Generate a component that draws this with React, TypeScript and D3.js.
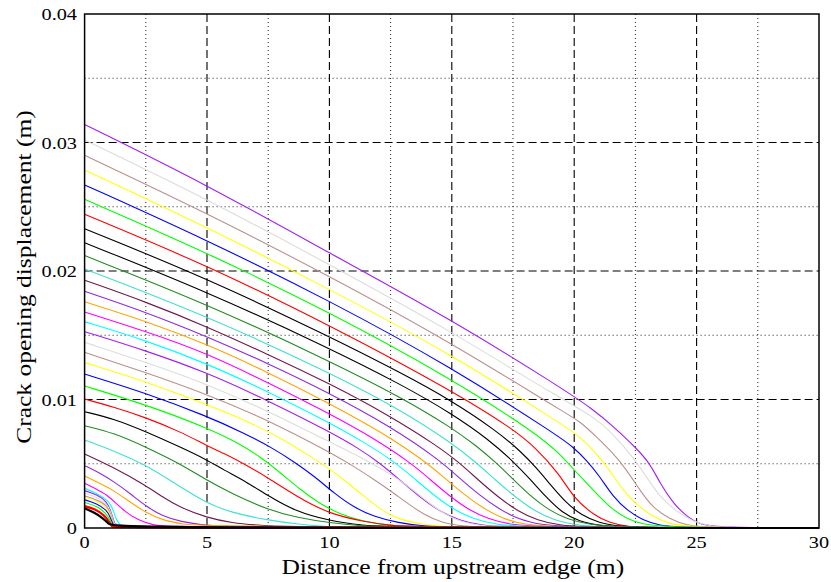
import React from "react";
import * as d3 from "d3";

const W = 831;
const H = 582;
const left = 84.6;
const right = 819;
const top = 14;
const bottom = 528;

const xMajor = [5, 10, 15, 20, 25];
const xMinor = [2.5, 7.5, 12.5, 17.5, 22.5, 27.5];
const yMajor = [0.01, 0.02, 0.03];
const yMinor = [0.005, 0.015, 0.025, 0.035];
const xTickLabels = ["0", "5", "10", "15", "20", "25", "30"];
const xTickValues = [0, 5, 10, 15, 20, 25, 30];
const yTickLabels = ["0", "0.01", "0.02", "0.03", "0.04"];
const yTickValues = [0, 0.01, 0.02, 0.03, 0.04];

// one colour per profile, from the shortest crack to the longest
const profileColors = [
  "#000000", "#ff0000", "#00ff00", "#0000ff", "#ffff00", "#bc8f8f", "#dcdcdc", "#a020f0",
  "#00ffff", "#ff00ff", "#ffa500", "#8a2be2", "#701a4c", "#40e0d0", "#228b22", "#000000",
  "#ff0000", "#00ff00", "#0000ff", "#ffff00", "#bc8f8f", "#dcdcdc", "#a020f0", "#00ffff",
  "#ff00ff", "#ffa500", "#8a2be2", "#701a4c", "#40e0d0", "#228b22", "#000000", "#000000",
  "#ff0000", "#00ff00", "#0000ff", "#ffff00", "#bc8f8f", "#dcdcdc", "#a020f0",
];

// crack opening profiles [distance (m), opening (m)]
const profiles: [number, number][][] = [
  [[0, 0.00153], [0.4, 0.0012], [0.76, 0.00075], [1.0, 0.0003], [1.15, 0], [30, 0]],
  [[0, 0.0017], [0.4, 0.0015], [0.8, 0.001], [1.0, 0.0005], [1.12, 0.0001], [1.2, 0], [30, 0]],
  [[0, 0.002], [0.5, 0.0017], [0.85, 0.0012], [1.05, 0.0006], [1.15, 0.0001], [1.24, 0], [30, 0]],
  [[0, 0.0022], [0.5, 0.0019], [0.9, 0.0014], [1.06, 0.0008], [1.17, 0.0002], [1.26, 0], [30, 0]],
  [[0, 0.0024], [0.5, 0.0021], [0.9, 0.0016], [1.08, 0.0009], [1.18, 0.0002], [1.28, 0], [30, 0]],
  [[0, 0.0025], [0.5, 0.0022], [0.9, 0.0018], [1.08, 0.001], [1.2, 0.0002], [1.3, 0], [30, 0]],
  [[0, 0.0027], [0.5, 0.0024], [0.9, 0.0019], [1.1, 0.0011], [1.2, 0.0003], [1.32, 0], [30, 0]],
  [[0, 0.0029], [0.5, 0.0026], [0.9, 0.0021], [1.1, 0.0012], [1.22, 0.0003], [1.35, 0], [30, 0]],
  [[0, 0.00309], [0.5, 0.0027], [1.0, 0.0021], [1.17, 0.0014], [1.3, 0.0006], [1.5, 0.0001], [1.8, 0], [30, 0]],
  [[0, 0.00348], [0.5, 0.003], [0.9, 0.0026], [1.3, 0.0019], [1.7, 0.0012], [2.2, 0.0006], [2.8, 0.0002], [3.6, 0.00005], [30, 0]],
  [[0, 0.00405], [0.8, 0.0033], [1.2, 0.0029], [1.8, 0.0021], [2.5, 0.0012], [3.2, 0.0006], [4.0, 0.0003], [5.0, 0.0001], [30, 0]],
  [[0, 0.00485], [0.6, 0.0043], [1.2, 0.0036], [1.85, 0.0027], [2.5, 0.0017], [3.2, 0.0009], [3.9, 0.0005], [5, 0.0002], [6, 0.00005], [30, 0]],
  [[0, 0.00576], [1.2, 0.0047], [2.5, 0.0033], [3.2, 0.0024], [3.9, 0.0016], [5, 0.0008], [6, 0.0004], [7.2, 0.0002], [8.5, 0.00005], [30, 0]],
  [[0, 0.00685], [1.2, 0.006], [2.5, 0.0049], [3.5, 0.0037], [5, 0.0019], [6, 0.0012], [7.5, 0.0006], [8.7, 0.0003], [10, 0.0001], [11, 0.00003], [30, 0]],
  [[0, 0.00796], [1.2, 0.0074], [2.5, 0.0063], [3.9, 0.005], [5, 0.0037], [6, 0.0027], [7.5, 0.0014], [8.7, 0.0008], [10, 0.0004], [11.4, 0.00015], [12.5, 0.00003], [30, 0]],
  [[0, 0.00905], [1.2, 0.0085], [2.5, 0.0075], [3.9, 0.0063], [5, 0.0053], [5.7, 0.0045], [6.6, 0.0036], [7.5, 0.0025], [8.6, 0.0013], [10, 0.00055], [11.4, 0.0002], [12.5, 0.00005], [30, 0]],
  [[0, 0.01004], [1.2, 0.0094], [2.5, 0.0086], [3.9, 0.0075], [5, 0.0064], [5.7, 0.0058], [6.6, 0.0049], [7.5, 0.0039], [8.7, 0.0024], [10, 0.0011], [11.4, 0.0005], [12.5, 0.0002], [13.5, 0.00005], [30, 0]],
  [[0, 0.01105], [2.5, 0.0096], [5, 0.0078], [6.3, 0.0066], [7.2, 0.0055], [8.0, 0.0043], [8.8, 0.003], [9.6, 0.0019], [10.4, 0.0011], [11.4, 0.0005], [12.5, 0.00018], [14, 0.00003], [30, 0]],
  [[0, 0.01198], [2.5, 0.0105], [5, 0.0087], [6.5, 0.0074], [7.7, 0.0062], [8.6, 0.0051], [9.4, 0.004], [10.2, 0.0027], [11.0, 0.0016], [11.8, 0.0009], [12.8, 0.0004], [13.9, 0.00012], [15.3, 0.00002], [30, 0]],
  [[0, 0.01287], [2.5, 0.0114], [5, 0.0096], [6.8, 0.0082], [8.2, 0.0068], [9.2, 0.0056], [10.0, 0.0046], [10.7, 0.0036], [11.4, 0.0025], [12.1, 0.0014], [12.8, 0.0007], [13.7, 0.0003], [14.8, 0.0001], [16.2, 0.00002], [30, 0]],
  [[0, 0.01367], [2.5, 0.0121], [5, 0.0104], [7, 0.0088], [8.6, 0.0073], [10, 0.0059], [11.0, 0.0048], [11.8, 0.0038], [12.5, 0.0029], [13.2, 0.0019], [13.9, 0.001], [14.6, 0.0004], [15.5, 0.00012], [17, 0.00002], [30, 0]],
  [[0, 0.01445], [2.5, 0.0129], [5, 0.0112], [7.5, 0.0091], [10, 0.0067], [11.4, 0.0054], [12.5, 0.0042], [13.2, 0.0033], [13.9, 0.0022], [14.6, 0.0012], [15.3, 0.0005], [16.2, 0.00015], [17.5, 0.00002], [30, 0]],
  [[0, 0.01528], [2.5, 0.0138], [5, 0.0121], [7.5, 0.0099], [10, 0.0075], [11.2, 0.0062], [12.1, 0.005], [12.9, 0.0037], [13.7, 0.0024], [14.5, 0.0013], [15.3, 0.0006], [16.2, 0.0002], [17.5, 0.00003], [30, 0]],
  [[0, 0.01606], [2.5, 0.0146], [5, 0.0128], [7.5, 0.0106], [10, 0.0082], [11.4, 0.0067], [12.7, 0.0051], [13.5, 0.0038], [14.3, 0.0025], [15.1, 0.0014], [15.9, 0.0007], [16.8, 0.00025], [18.2, 0.00003], [30, 0]],
  [[0, 0.01681], [2.5, 0.0153], [5, 0.0136], [7.5, 0.0113], [10, 0.0089], [11.8, 0.007], [13.3, 0.0051], [14.1, 0.0038], [14.9, 0.0025], [15.7, 0.0014], [16.5, 0.0007], [17.4, 0.00025], [18.8, 0.00003], [30, 0]],
  [[0, 0.01761], [2.5, 0.0161], [5, 0.0143], [7.5, 0.0121], [10, 0.0097], [12.2, 0.0074], [13.9, 0.0052], [14.7, 0.0039], [15.5, 0.0026], [16.3, 0.0015], [17.1, 0.0007], [18.0, 0.00025], [19.4, 0.00003], [30, 0]],
  [[0, 0.01842], [2.5, 0.0168], [5, 0.0149], [7.5, 0.0128], [10, 0.0105], [12.5, 0.0079], [14.5, 0.0053], [15.3, 0.0039], [16.1, 0.0026], [16.9, 0.0015], [17.7, 0.0007], [18.6, 0.00025], [20, 0.00003], [30, 0]],
  [[0, 0.01928], [2.5, 0.0176], [5, 0.01567], [7.5, 0.0135], [10, 0.01125], [12.5, 0.0087], [14.4, 0.0064], [15.3, 0.0051], [16.1, 0.0037], [16.9, 0.0024], [17.7, 0.0013], [18.5, 0.0006], [19.4, 0.0002], [20.8, 0.00003], [30, 0]],
  [[0, 0.02016], [5, 0.0165], [10, 0.0121], [13, 0.0091], [15, 0.0066], [16.0, 0.0051], [16.8, 0.0037], [17.6, 0.0024], [18.4, 0.0013], [19.2, 0.0006], [20.1, 0.0002], [21.5, 0.00003], [30, 0]],
  [[0, 0.0212], [5, 0.01743], [10, 0.013], [13, 0.0101], [15, 0.0078], [16.0, 0.0064], [16.8, 0.0051], [17.5, 0.0038], [18.2, 0.0025], [18.95, 0.0014], [19.7, 0.0007], [20.6, 0.00025], [22, 0.00003], [30, 0]],
  [[0, 0.0222], [5, 0.01839], [10, 0.014], [13, 0.0111], [15, 0.0089], [16.5, 0.0069], [17.5, 0.0052], [18.2, 0.0038], [18.85, 0.0024], [19.5, 0.0012], [20.2, 0.0005], [21.1, 0.00015], [22.5, 0.00002], [30, 0]],
  [[0, 0.02329], [5, 0.01943], [10, 0.0149], [13, 0.012], [15, 0.0099], [16.8, 0.0076], [17.8, 0.006], [18.5, 0.0046], [19.1, 0.0032], [19.7, 0.0019], [20.3, 0.001], [21.0, 0.0004], [21.9, 0.00012], [23, 0.00002], [30, 0]],
  [[0, 0.02441], [5, 0.02044], [10, 0.0158], [15, 0.0107], [17.5, 0.0077], [18.4, 0.0063], [19.4, 0.0042], [19.95, 0.0024], [20.8, 0.001], [21.45, 0.0004], [22.2, 0.0001], [23, 0.00002], [30, 0]],
  [[0, 0.02558], [5, 0.02143], [10, 0.0168], [15, 0.0116], [18.5, 0.0073], [19.4, 0.0058], [20.2, 0.0041], [20.8, 0.0029], [21.45, 0.0016], [22.15, 0.0007], [22.8, 0.0003], [23.6, 0.00005], [30, 0]],
  [[0, 0.0267], [5, 0.0224], [10, 0.0177], [15, 0.0125], [19.4, 0.0071], [19.95, 0.0063], [20.5, 0.0053], [21.05, 0.004], [21.6, 0.0024], [22.15, 0.0014], [22.8, 0.0006], [23.5, 0.0002], [24.3, 0.00003], [30, 0]],
  [[0, 0.02786], [5, 0.0234], [10, 0.0186], [15, 0.0135], [19.4, 0.0082], [20.25, 0.0071], [20.9, 0.0058], [21.45, 0.0045], [22.0, 0.0029], [22.55, 0.0018], [23.2, 0.0009], [23.9, 0.0003], [24.7, 0.00005], [30, 0]],
  [[0, 0.029], [5, 0.0245], [10, 0.0196], [15, 0.0144], [19.4, 0.0092], [20.25, 0.0083], [20.9, 0.0071], [21.6, 0.0058], [22.15, 0.0045], [22.7, 0.0029], [23.2, 0.0016], [23.9, 0.0007], [24.6, 0.0002], [25.5, 0], [30, 0]],
  [[0, 0.0302], [5, 0.0256], [10, 0.0205], [15, 0.0153], [19.4, 0.0101], [20.8, 0.0087], [21.7, 0.0071], [22.4, 0.0055], [22.95, 0.004], [23.5, 0.0024], [24.2, 0.00125], [24.85, 0.0005], [25.6, 0.0001], [26.5, 0], [30, 0]],
  [[0, 0.0314], [5, 0.0267], [10, 0.0214], [15, 0.0162], [19.4, 0.011], [20.8, 0.0092], [21.6, 0.0079], [22.55, 0.0062], [23.1, 0.005], [23.5, 0.0035], [24.05, 0.0019], [24.6, 0.0009], [25.1, 0.0003], [25.9, 0.00003], [30, 0]],
];

const font = "'Liberation Serif', 'Times New Roman', serif";
const stretch = 1.16; // the original lettering is a little wider than Times

export default function App() {
  const x = d3.scaleLinear().domain([0, 30]).range([left, right]);
  const y = d3.scaleLinear().domain([0, 0.04]).range([bottom, top]);

  const line = d3
    .line<[number, number]>()
    .x((d) => x(d[0]))
    .y((d) => y(d[1]))
    .curve(d3.curveBasis);

  // draw longest cracks first so the short ones sit on top
  const order = d3.range(profiles.length).reverse();

  return (
    <svg
      width={W}
      height={H}
      style={{ position: "absolute", left: 0, top: 0, background: "#fff" }}
      fontFamily={font}
    >
      <rect x={0} y={0} width={W} height={H} fill="#fff" />

      {/* grid */}
      {xMinor.map((v) => (
        <line key={"xm" + v} x1={x(v)} x2={x(v)} y1={top} y2={bottom} stroke="#222" strokeWidth={1} strokeDasharray="1,3" />
      ))}
      {yMinor.map((v) => (
        <line key={"ym" + v} x1={left} x2={right} y1={y(v)} y2={y(v)} stroke="#222" strokeWidth={1} strokeDasharray="1,3" />
      ))}
      {xMajor.map((v) => (
        <line key={"xM" + v} x1={x(v)} x2={x(v)} y1={top} y2={bottom} stroke="#000" strokeWidth={1.1} strokeDasharray="8,4" />
      ))}
      {yMajor.map((v) => (
        <line key={"yM" + v} x1={left} x2={right} y1={y(v)} y2={y(v)} stroke="#000" strokeWidth={1.1} strokeDasharray="8,4" />
      ))}

      {/* profiles */}
      <g fill="none">
        {order.map((i) => (
          <path
            key={i}
            d={line(profiles[i]) || ""}
            stroke={profileColors[i]}
            strokeWidth={i < 2 ? 2.2 : 1.1}
          />
        ))}
      </g>

      {/* frame */}
      <rect x={left} y={top} width={right - left} height={bottom - top} fill="none" stroke="#000" strokeWidth={1.5} />

      {/* tick labels */}
      {xTickValues.map((v, i) => (
        <text
          key={"xt" + v}
          transform={`translate(${x(v)}, 548) scale(${stretch}, 1)`}
          textAnchor="middle"
          fontSize={17.5}
          fill="#000"
        >
          {xTickLabels[i]}
        </text>
      ))}
      {yTickValues.map((v, i) => (
        <text
          key={"yt" + v}
          transform={`translate(77, ${y(v) + 6}) scale(${stretch}, 1)`}
          textAnchor="end"
          fontSize={17.5}
          fill="#000"
        >
          {yTickLabels[i]}
        </text>
      ))}

      {/* axis titles */}
      <text
        transform={`translate(${(left + right) / 2 + 1}, 574) scale(${stretch}, 1)`}
        textAnchor="middle"
        fontSize={22}
        fill="#000"
      >
        Distance from upstream edge (m)
      </text>
      <text
        transform={`translate(31, ${(top + bottom) / 2 + 6}) rotate(-90) scale(${stretch}, 1)`}
        textAnchor="middle"
        fontSize={22}
        fill="#000"
      >
        Crack opening displacement (m)
      </text>
    </svg>
  );
}
